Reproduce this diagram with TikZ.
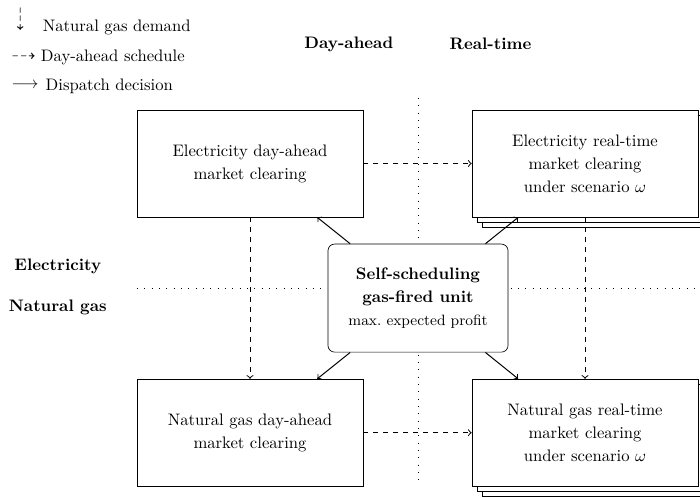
\documentclass[tikz,border=0pt]{standalone}
\usepackage{amsmath,amssymb}
\usepackage{xcolor}
\usepackage{tikz}
\usetikzlibrary{positioning,shadows}
\tikzset{
  market/.style={draw,fill=white,minimum width=4.77cm,minimum height=2.26cm,align=center,font=\linespread{1.15}\selectfont},
  scen/.style={market,copy shadow={shadow xshift=6pt,shadow yshift=-6pt},copy shadow={shadow xshift=3pt,shadow yshift=-3pt}},
  unit/.style={draw,fill=white,rounded corners=4pt,minimum width=3.8cm,minimum height=2.28cm,align=center,font=\linespread{1.15}\selectfont},
  sep/.style={loosely dotted},
}

\begin{document}
\begin{tikzpicture}[>=to]
\useasboundingbox (0,0) rectangle (14.77,-10.49);
% legend
\node (symdem) at (0.42,-0.40) {\rotatebox[origin=c]{-90}{$\dashrightarrow$}};
\node[anchor=base west] (txtdem) at (0.78,-0.665) {Natural gas demand};
\node (symsch) at (0.5,-1.2) {$\dashrightarrow$};
\node[anchor=base west] (txtsch) at (0.74,-1.30) {Day-ahead schedule};
\node (symdis) at (0.53,-1.8) {$\longrightarrow$};
\node[anchor=base west] (txtdis) at (0.84,-1.91) {Dispatch decision};
% row and column labels
\node[font=\bfseries] (colda) at (7.36,-0.93) {Day-ahead};
\node[font=\bfseries] (colrt) at (10.35,-0.93) {Real-time};
\node[font=\bfseries] (rowel) at (1.22,-5.63) {Electricity};
\node[font=\bfseries] (rowng) at (1.22,-6.48) {Natural gas};
% separators
\draw[sep] (2.89,-6.08) -- (14.8,-6.08);
\draw[sep] (8.82,-2.07) -- (8.82,-10.17);
% markets
\node[market] (elda) at (5.275,-3.45) {Electricity day-ahead\\market clearing};
\node[scen] (elrt) at (12.344,-3.45) {Electricity real-time\\market clearing\\under scenario $\omega$};
\node[market] (ngda) at (5.275,-9.13) {Natural gas day-ahead\\market clearing};
\node[scen] (ngrt) at (12.344,-9.13) {Natural gas real-time\\market clearing\\under scenario $\omega$};
\node[unit] (gfu) at (8.82,-6.29) {\textbf{Self-scheduling}\\\textbf{gas-fired unit}\\{\small max.\ expected profit}};
% schedules and gas demand
\draw[->,dashed,semithick] (elda) -- (elrt);
\draw[->,dashed,semithick] (ngda) -- (ngrt);
\draw[->,dashed,semithick] (elda) -- (ngda);
\draw[->,dashed,semithick] (elrt) -- (ngrt);
% dispatch
\foreach \m in {elda,elrt,ngda,ngrt} \draw[->,semithick] (gfu) -- (\m);
\end{tikzpicture}
\end{document}
